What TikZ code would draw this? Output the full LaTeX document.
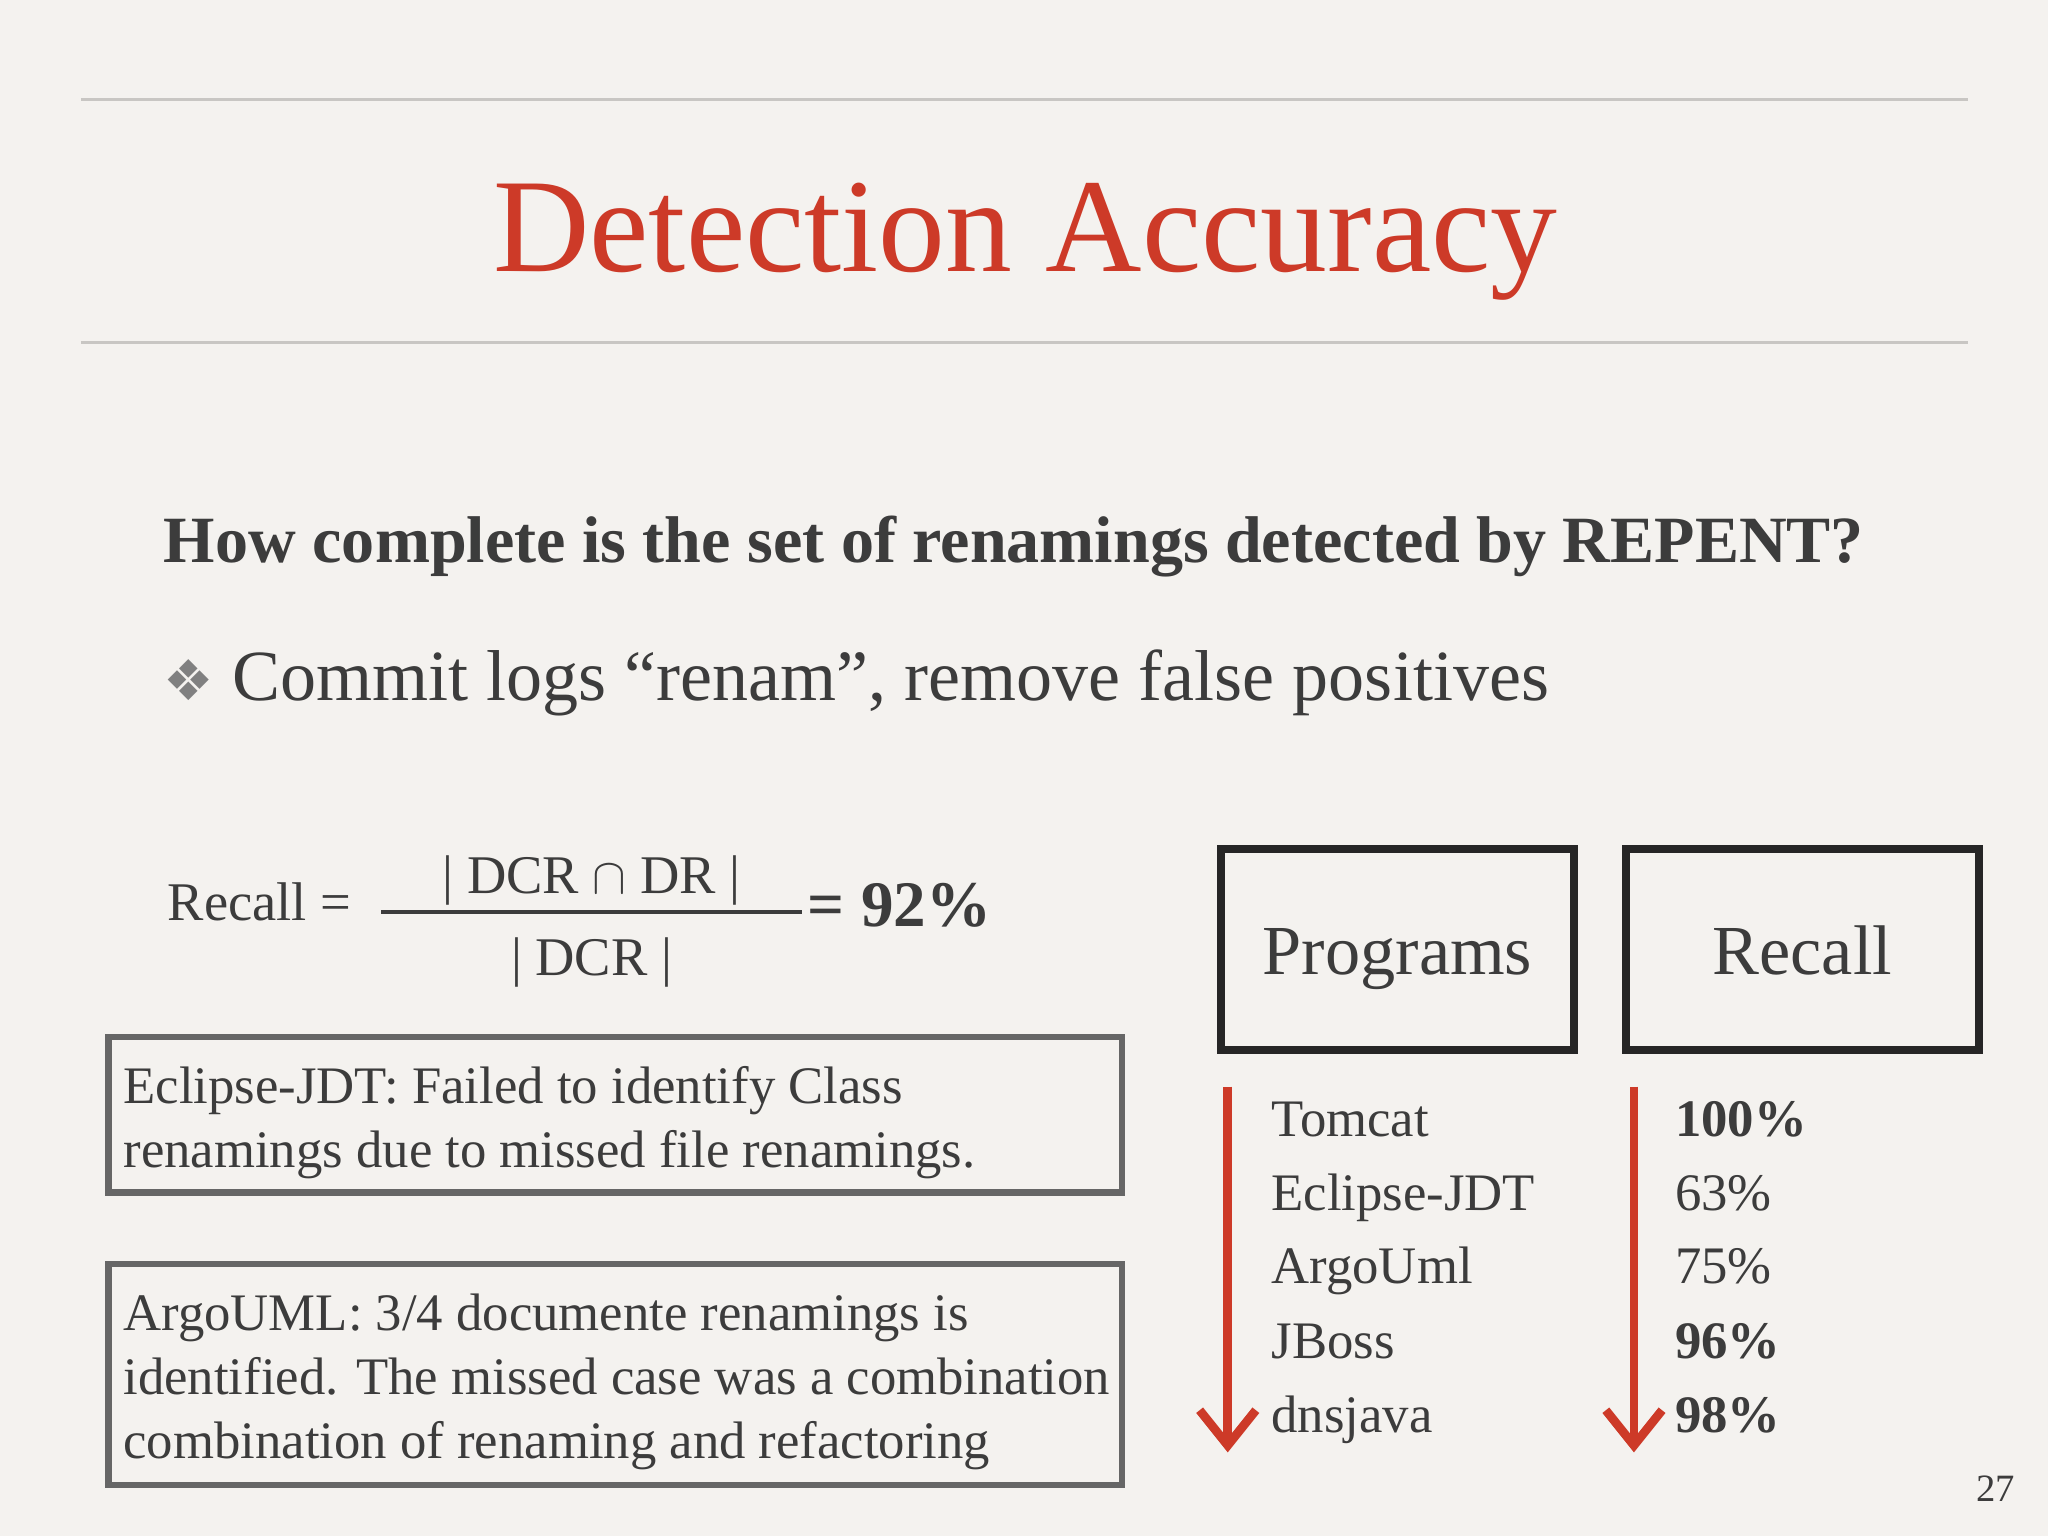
\documentclass[tikz,border=0pt]{standalone}
\usepackage{fontspec}
\setmainfont{Liberation Serif}
\usetikzlibrary{arrows.meta}
\definecolor{bg}{RGB}{244,242,239}
\definecolor{tred}{RGB}{205,58,40}
\definecolor{txt}{RGB}{60,60,60}
\definecolor{rule}{RGB}{200,198,195}
\tikzset{
 px/.style={x=0.01306cm,y=-0.01306cm},
 t/.style={text=txt,anchor=base west,inner sep=0pt},
 hdr/.style={draw=black!85,line width=2.2pt},
 note/.style={draw=black!60,line width=1.8pt},
 redarrow/.style={tred,line width=2.5pt,-{Straight Barb[length=10pt,width=16pt,line width=2.5pt]}}
}
\newcommand{\fs}[1]{\fontsize{#1}{#1*1.2}\selectfont}
\begin{document}
\begin{tikzpicture}[px]
\fill[bg] (0,0) rectangle (1568,1176);
\useasboundingbox (0,0) rectangle (1568,1176);
\draw[rule,line width=0.8pt] (62,76) -- (1507,76);
\draw[rule,line width=0.8pt] (62,262) -- (1507,262);
\node[text=tred,inner sep=0pt,anchor=base] (title) at (785,208) {\fs{38pt}Detection Accuracy};
\node[t] (q) at (125,431) {\fs{18.8pt}\bfseries How complete is the set of renamings detected by REPENT?};
\node[t] (b) at (125,536) {\fs{20.5pt}\textcolor{black!50}{\fontspec{DejaVu Sans}\fs{16pt}❖} Commit logs “renam”, remove false positives};
% formula
\node[t] (rec) at (128,705) {\fs{15.5pt}Recall =};
\node[text=txt,inner sep=0pt,anchor=base] (num) at (453,684) {\fs{15.5pt}| DCR $\cap$ DR |};
\node[text=txt,inner sep=0pt,anchor=base] (den) at (453,747) {\fs{15.5pt}| DCR |};
\draw[txt,line width=1.2pt] (292,698) -- (614,698);
\node[t] (pct) at (618,709) {\fs{18.5pt}\bfseries = 92\%};
% notes
\draw[note] (83,794) rectangle (859,913);
\node[t] at (94,845) {\fs{15pt}Eclipse-JDT: Failed to identify Class};
\node[t] at (94,894) {\fs{15pt}renamings due to missed file renamings.};
\draw[note] (83,968) rectangle (859,1137);
\node[t] at (94,1019) {\fs{15pt}ArgoUML: 3/4 documente renamings is};
\node[t] at (94,1068) {\fs{15pt}identified. The missed case was a combination};
\node[t] at (94,1117) {\fs{15pt}combination of renaming and refactoring};
% headers
\draw[hdr] (935,650) rectangle (1205,804);
\node[text=txt,inner sep=0pt,anchor=base] (ph) at (1070,746) {\fs{20pt}Programs};
\draw[hdr] (1245,650) rectangle (1515,804);
\node[text=txt,inner sep=0pt,anchor=base] (rh) at (1380,746) {\fs{20pt}Recall};
% rows
\foreach \n/\y in {Tomcat/870,Eclipse-JDT/927,ArgoUml/983,JBoss/1040,dnsjava/1097}
  \node[t] at (973,\y) {\fs{15pt}\n};
\foreach \v/\y/\bb in {100\%/870/1,63\%/927/0,75\%/983/0,96\%/1040/1,98\%/1097/1}
  \node[t] at (1282,\y) {\fs{15pt}\ifnum\bb=1 \bfseries\fi \v};
\coordinate (a1) at (940,832); \coordinate (a2) at (940,1112);
\coordinate (b1) at (1251,832); \coordinate (b2) at (1251,1112);
\draw[redarrow] (a1) -- (a2);
\draw[redarrow] (b1) -- (b2);
\node[text=txt,inner sep=0pt] (pg) at (1528,1140) {\fs{11pt}27};
\end{tikzpicture}
\end{document}
